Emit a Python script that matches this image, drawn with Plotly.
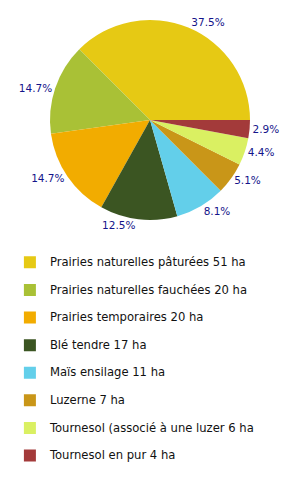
import plotly.graph_objects as go

labels = [
    "Prairies naturelles pâturées 51 ha",
    "Prairies naturelles fauchées 20 ha",
    "Prairies temporaires 20 ha",
    "Blé tendre 17 ha",
    "Maïs ensilage 11 ha",
    "Luzerne 7 ha",
    "Tournesol (associé à une luzer 6 ha",
    "Tournesol en pur 4 ha",
]
values = [51, 20, 20, 17, 11, 7, 6, 4]
colors = ["#E6C914", "#A9C136", "#F2AC00", "#3B5522", "#63CFEA",
          "#C99618", "#DAF062", "#A33A3A"]

legend_names = ['<span style="font-size:11.6px">%s</span><br> ' % l for l in labels]

# first slice starts at 3 o'clock and the pie runs counterclockwise;
# in plotly's counterclockwise mode the first slice ends at `rotation`
start_rotation = 90 - 360 * values[0] / sum(values)

fig = go.Figure(go.Pie(
    labels=legend_names,
    values=values,
    sort=False,
    direction="counterclockwise",
    rotation=start_rotation,
    marker=dict(colors=colors, line=dict(width=0)),
    textposition="outside",
    texttemplate="%{percent:.1%}",
    textfont=dict(family="DejaVu Sans", size=10.5, color="#14148A"),
    hoverinfo="percent",
    domain=dict(x=[50/300, 250/300], y=[1-220/494, 1-20/494]),
))

fig.update_layout(
    width=300, height=494,
    margin=dict(l=0, r=0, t=0, b=0, autoexpand=False),
    paper_bgcolor="white",
    plot_bgcolor="white",
    showlegend=True,
    legend=dict(
        x=0.033, y=1-249.7/494, xanchor="left", yanchor="top",
        font=dict(family="DejaVu Sans", size=9.46, color="#111111"),
        bgcolor="rgba(0,0,0,0)",
        traceorder="normal",
        valign="top",
    ),
)

fig.write_html("out.html")
